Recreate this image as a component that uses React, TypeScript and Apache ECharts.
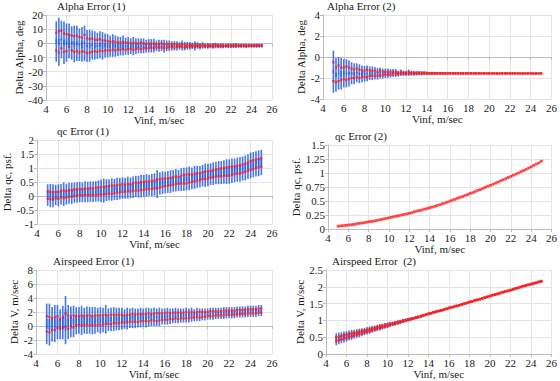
import React, { useEffect, useRef } from 'react';
import * as echarts from 'echarts';

const vinf = [5,5.25,5.5,5.75,6,6.25,6.5,6.75,7,7.25,7.5,7.75,8,8.25,8.5,8.75,9,9.25,9.5,9.75,10,10.25,10.5,10.75,11,11.25,11.5,11.75,12,12.25,12.5,12.75,13,13.25,13.5,13.75,14,14.25,14.5,14.75,15,15.25,15.5,15.75,16,16.25,16.5,16.75,17,17.25,17.5,17.75,18,18.25,18.5,18.75,19,19.25,19.5,19.75,20,20.25,20.5,20.75,21,21.25,21.5,21.75,22,22.25,22.5,22.75,23,23.25,23.5,23.75,24,24.25,24.5,24.75,25];
const xTicks = [4, 6, 8, 10, 12, 14, 16, 18, 20, 22, 24, 26];

// Alpha Error (1)
const a1Up = [7.5,8.5,9.0,7.0, 6.5,6.0,5.5,5.0, 5.5,4.5,4.0,6.0, 3.5,3.0,3.5,2.5, 2.5,3.0,2.0,2.0, 1.5,1.0,1.5,1.0, 0.5,0.5,1.0,0.5, 0.5,0.0,0.5,0.0, 0.0,0.5,0.0,-0.5, 0.0,-0.5,0.0,-0.5, -0.5,0.0,-0.5,-0.5, -0.5,-1.0,-0.5,-1.0, -1.0,-0.5,-1.0,-1.0, -1.0,-1.5,-1.0,-1.0, -1.5,-1.0,-1.5,-1.5, -1.5,-1.5,-1.0,-1.5, -1.5,-1.5,-1.5,-1.5, -1.5,-1.5,-1.0,-1.5, -1.5,-1.5,-1.5,-1.5, -1.5,-1.5,-1.5,-1.5, -1.5];
const a1Lo = [-5.0,-6.5,-3.5,-6.0, -5.5,-2.5,-5.0,-6.0, -5.5,-6.5,-5.5,-6.0, -7.0,-6.5,-6.0,-5.5, -6.0,-5.0,-5.5,-5.0, -5.0,-5.0,-4.5,-5.0, -4.5,-4.5,-4.0,-4.5, -4.0,-4.0,-4.5,-4.0, -3.5,-4.0,-3.5,-3.5, -3.5,-3.0,-3.5,-3.0, -3.0,-3.0,-3.5,-3.0, -3.0,-2.5,-3.0,-2.5, -2.5,-2.5,-3.0,-2.5, -2.5,-2.0,-2.5,-2.0, -2.5,-2.0,-2.0,-2.0, -2.0,-2.0,-2.0,-2.0, -2.0,-2.0,-1.8,-2.0, -2.0,-1.8,-2.0,-1.8, -1.8,-1.8,-2.0,-1.8, -1.8,-1.8,-1.8,-1.8, -1.8];
const a1Err = [8.0,9.5,7.0,8.5, 7.5,8.0,6.5,7.5, 7.0,6.0,7.5,6.5, 6.0,6.5,5.5,6.0, 5.0,5.5,6.0,5.0, 5.0,4.5,5.0,4.5, 4.5,4.0,4.5,3.5, 4.0,3.5,4.0,3.5, 3.5,3.0,3.5,3.0, 3.0,3.5,3.0,2.5, 3.0,2.5,3.0,2.5, 2.5,2.5,2.0,2.5, 2.0,2.5,2.0,2.0, 2.0,2.0,2.5,1.8, 1.8,1.8,1.5,1.8, 1.5,1.8,1.5,1.5, 1.5,1.5,1.3,1.5, 1.3,1.5,1.3,1.3, 1.3,1.2,1.3,1.2, 1.2,1.2,1.3,1.2, 1.2];

// Alpha Error (2)
const a2Up = [-0.5,-1.0,-0.8,-1.0, -1.0,-0.9,-1.0,-1.1, -1.2,-1.1,-1.2,-1.3, -1.3,-1.2,-1.3,-1.3, -1.3,-1.4,-1.3,-1.4, -1.4,-1.4,-1.4,-1.4, -1.4,-1.5,-1.4,-1.5, -1.5,-1.4,-1.5,-1.5, -1.5,-1.5,-1.5,-1.5, -1.52,-1.55,-1.53,-1.55, -1.54,-1.55,-1.53,-1.55, -1.55,-1.54,-1.55,-1.55, -1.55,-1.56,-1.55,-1.55, -1.55,-1.55,-1.56,-1.55, -1.55,-1.56,-1.55,-1.56, -1.56,-1.55,-1.56,-1.56, -1.56,-1.56,-1.55,-1.56, -1.56,-1.56,-1.56,-1.56, -1.56,-1.57,-1.56,-1.56, -1.56,-1.56,-1.57,-1.56, -1.56];
const a2Lo = [-2.3,-2.4,-2.3,-2.2, -2.1,-2.2,-2.1,-2.0, -2.0,-1.9,-2.0,-1.9, -1.9,-1.9,-1.8,-1.8, -1.8,-1.8,-1.75,-1.75, -1.7,-1.7,-1.7,-1.65, -1.65,-1.65,-1.6,-1.6, -1.6,-1.6,-1.6,-1.6, -1.6,-1.58,-1.6,-1.58, -1.58,-1.57,-1.58,-1.57, -1.57,-1.57,-1.58,-1.57, -1.57,-1.57,-1.57,-1.58, -1.57,-1.57,-1.58,-1.57, -1.57,-1.58,-1.57,-1.57, -1.57,-1.57,-1.57,-1.57, -1.57,-1.57,-1.57,-1.58, -1.57,-1.57,-1.58,-1.57, -1.57,-1.57,-1.57,-1.57, -1.58,-1.57,-1.57,-1.57, -1.57,-1.58,-1.57,-1.57, -1.57];
const a2Err = [1.1,0.9,0.8,0.9, 0.8,0.7,0.7,0.6, 0.6,0.5,0.5,0.5, 0.45,0.4,0.4,0.4, 0.35,0.35,0.3,0.3, 0.3,0.3,0.25,0.25, 0.25,0.22,0.22,0.2, 0.2,0.2,0.18,0.18, 0.16,0.16,0.15,0.14, 0.13,0.12,0.12,0.11, 0.1,0.1,0.1,0.09, 0.09,0.08,0.08,0.08, 0.08,0.07,0.08,0.07, 0.07,0.07,0.07,0.07, 0.07,0.06,0.07,0.06, 0.06,0.06,0.06,0.06, 0.06,0.06,0.06,0.06, 0.06,0.06,0.06,0.06, 0.06,0.06,0.06,0.06, 0.06,0.06,0.06,0.06, 0.06];

// qc Error (1)
const q1Up = [0.17,0.15,0.12,0.15, 0.15,0.18,0.2,0.18, 0.22,0.2,0.24,0.23, 0.25,0.24,0.27,0.26, 0.28,0.27,0.3,0.31, 0.33,0.32,0.35,0.36, 0.38,0.37,0.4,0.4, 0.42,0.4,0.43,0.42, 0.45,0.48,0.47,0.5, 0.5,0.52,0.52,0.54, 0.55,0.58,0.6,0.62, 0.62,0.63,0.65,0.68, 0.7,0.68,0.72,0.75, 0.77,0.78,0.76,0.8, 0.82,0.8,0.85,0.88, 0.88,0.9,0.92,0.95, 0.97,0.98,1.0,1.02, 1.03,1.05,1.06,1.08, 1.1,1.13,1.15,1.2, 1.25,1.28,1.3,1.32, 1.35];
const q1Lo = [-0.1,-0.12,-0.1,-0.08, -0.1,-0.05,-0.08,-0.05, -0.03,-0.02,0.0,0.02, 0.03,0.02,0.04,0.03, 0.03,0.04,0.03,0.05, 0.05,0.06,0.07,0.08, 0.08,0.1,0.12,0.13, 0.15,0.15,0.17,0.16, 0.18,0.2,0.19,0.21, 0.22,0.24,0.25,0.25, 0.27,0.28,0.3,0.33, 0.35,0.37,0.38,0.4, 0.42,0.43,0.45,0.44, 0.45,0.48,0.5,0.52, 0.55,0.57,0.6,0.6, 0.62,0.65,0.67,0.7, 0.7,0.7,0.72,0.72, 0.72,0.75,0.78,0.8, 0.8,0.83,0.86,0.9, 0.93,0.96,1.0,1.02, 1.05];
const q1Err = [0.25,0.28,0.3,0.25, 0.27,0.25,0.28,0.26, 0.25,0.27,0.24,0.26, 0.25,0.24,0.26,0.25, 0.24,0.25,0.23,0.25, 0.26,0.3,0.25,0.24, 0.25,0.24,0.26,0.25, 0.24,0.25,0.26,0.24, 0.25,0.24,0.25,0.26, 0.25,0.26,0.24,0.25, 0.26,0.35,0.25,0.26, 0.25,0.26,0.27,0.25, 0.26,0.25,0.27,0.26, 0.25,0.27,0.26,0.27, 0.26,0.27,0.26,0.28, 0.27,0.26,0.28,0.27, 0.28,0.27,0.28,0.29, 0.28,0.29,0.28,0.29, 0.29,0.28,0.3,0.29, 0.3,0.29,0.3,0.31, 0.3];

// qc Error (2)
const q2 = [0.05,0.055,0.06,0.065, 0.07,0.075,0.08,0.09, 0.1,0.105,0.11,0.12, 0.13,0.135,0.14,0.15, 0.16,0.17,0.18,0.19, 0.2,0.21,0.22,0.23, 0.24,0.25,0.26,0.27, 0.28,0.29,0.31,0.32, 0.33,0.34,0.355,0.365, 0.38,0.39,0.405,0.42, 0.435,0.45,0.465,0.48, 0.5,0.515,0.53,0.55, 0.565,0.58,0.6,0.615, 0.635,0.65,0.67,0.69, 0.705,0.725,0.745,0.765, 0.78,0.8,0.82,0.84, 0.86,0.88,0.9,0.92, 0.94,0.96,0.98,1.0, 1.025,1.045,1.065,1.09, 1.11,1.135,1.16,1.18, 1.21];

// Airspeed Error (1)
const v1Up = [1.4,1.3,1.1,1.3, 1.4,0.9,1.2,1.8, 1.5,1.2,1.5,1.4, 1.4,1.5,1.4,1.5, 1.5,1.4,1.5,1.5, 1.5,1.5,1.6,1.5, 1.6,1.6,1.6,1.6, 1.6,1.5,1.6,1.6, 1.7,1.6,1.7,1.7, 1.7,1.7,1.8,1.7, 1.8,1.8,1.8,1.8, 1.8,1.9,1.8,1.9, 1.9,1.9,1.9,1.9, 2.0,1.9,2.0,1.9, 2.0,2.0,2.0,2.0, 2.0,2.1,2.1,2.1, 2.1,2.1,2.2,2.2, 2.2,2.2,2.2,2.3, 2.3,2.3,2.3,2.4, 2.4,2.4,2.4,2.5, 2.5];
const v1Lo = [-0.8,-0.9,-0.6,-0.6, -0.3,-0.4,-0.2,-0.1, -0.4,0.0,-0.2,0.1, 0.2,0.1,0.1,0.2, 0.1,0.1,0.1,0.2, 0.1,0.2,0.3,0.3, 0.3,0.4,0.4,0.4, 0.5,0.5,0.5,0.6, 0.6,0.6,0.6,0.7, 0.7,0.7,0.7,0.8, 0.8,0.7,0.8,0.9, 0.9,0.9,1.0,1.0, 1.1,1.0,1.1,1.1, 1.1,1.1,1.2,1.2, 1.3,1.2,1.3,1.3, 1.4,1.4,1.4,1.5, 1.5,1.5,1.5,1.6, 1.6,1.6,1.6,1.7, 1.7,1.7,1.7,1.8, 1.8,1.8,1.8,1.9, 1.9];
const v1Err = [1.8,1.9,1.6,1.7, 1.6,1.5,1.7,2.5, 1.5,1.6,1.4,1.3, 1.3,1.4,1.2,1.3, 1.2,1.3,1.2,1.1, 1.2,1.1,1.4,1.0, 1.0,1.1,1.0,1.0, 1.0,0.9,1.0,0.9, 0.9,0.9,0.8,0.9, 0.8,0.9,0.8,0.8, 0.8,0.7,0.8,0.7, 0.7,0.7,0.7,0.6, 0.7,0.6,0.6,0.6, 0.6,0.6,0.6,0.5, 0.6,0.5,0.5,0.5, 0.5,0.5,0.5,0.5, 0.5,0.5,0.5,0.5, 0.5,0.5,0.5,0.5, 0.5,0.5,0.5,0.5, 0.5,0.5,0.5,0.5, 0.5];

// Airspeed Error (2)
const v2Up = [0.5,0.52,0.54,0.56, 0.58,0.6,0.62,0.63, 0.65,0.67,0.69,0.7, 0.72,0.74,0.76,0.78, 0.8,0.82,0.84,0.86, 0.88,0.9,0.91,0.93, 0.95,0.97,0.99,1.01, 1.03,1.05,1.06,1.08, 1.1,1.13,1.15,1.17, 1.2,1.22,1.24,1.26, 1.28,1.3,1.32,1.35, 1.37,1.39,1.41,1.43, 1.45,1.48,1.5,1.52, 1.55,1.57,1.59,1.61, 1.63,1.66,1.68,1.7, 1.73,1.75,1.77,1.79, 1.82,1.84,1.86,1.88, 1.9,1.93,1.95,1.97, 2.0,2.02,2.04,2.06, 2.08,2.1,2.12,2.15, 2.17];
const v2Lo = [0.38,0.41,0.43,0.45, 0.47,0.5,0.52,0.55, 0.57,0.59,0.61,0.64, 0.66,0.68,0.7,0.73, 0.75,0.77,0.79,0.81, 0.83,0.86,0.88,0.9, 0.92,0.94,0.97,0.99, 1.01,1.03,1.05,1.08, 1.1,1.12,1.15,1.17, 1.19,1.21,1.24,1.26, 1.28,1.3,1.32,1.34, 1.37,1.39,1.41,1.43, 1.45,1.47,1.5,1.52, 1.54,1.56,1.59,1.61, 1.63,1.65,1.68,1.7, 1.72,1.75,1.77,1.79, 1.81,1.84,1.86,1.88, 1.9,1.92,1.95,1.97, 1.99,2.02,2.04,2.06, 2.08,2.1,2.12,2.14, 2.16];
const v2Err = [0.12,0.12,0.11,0.11, 0.1,0.1,0.1,0.09, 0.09,0.09,0.08,0.08, 0.08,0.08,0.07,0.07, 0.07,0.07,0.06,0.06, 0.06,0.06,0.05,0.05, 0.05,0.05,0.05,0.04, 0.04,0.04,0.04,0.04, 0.04,0.04,0.03,0.03, 0.03,0.03,0.03,0.03, 0.03,0.03,0.02,0.02, 0.02,0.02,0.02,0.02, 0.02,0.02,0.02,0.02, 0.02,0.02,0.02,0.02, 0.02,0.02,0.02,0.02, 0.02,0.02,0.02,0.02, 0.02,0.02,0.02,0.02, 0.02,0.02,0.02,0.02, 0.02,0.02,0.02,0.02, 0.02,0.02,0.02,0.02, 0.02];

const FONT = "'Liberation Serif', 'Times New Roman', serif";
const TEXT = '#1a1a1a';
const RED = '#ff1a1a';
const BLUE = 'rgba(40, 95, 230, 0.85)';

type Panel = {
  title: string; yName: string; min: number; max: number; interval: number;
  grid: { left: number; top: number; width: number; height: number };
  tx: number; ty: number; xGap: number; yGap: number; dot: number;
  series: { mean: number[]; err?: number[] }[];
};

const panels: Panel[] = [
  { title: 'Alpha Error (1)', yName: 'Delta Alpha, deg', min: -40, max: 20, interval: 10,
    grid: { left: 46, top: 15, width: 226, height: 85 }, tx: 57, ty: 6, xGap: 12, yGap: 21, dot: 2.3,
    series: [{ mean: a1Up, err: a1Err }, { mean: a1Lo, err: a1Err }] },
  { title: 'Alpha Error (2)', yName: 'Delta Alpha, deg', min: -4, max: 4, interval: 2,
    grid: { left: 323, top: 15, width: 229, height: 84 }, tx: 327, ty: 6, xGap: 12, yGap: 14, dot: 2.3,
    series: [{ mean: a2Up, err: a2Err }, { mean: a2Lo, err: a2Err }] },
  { title: 'qc Error (1)', yName: 'Delta qc, psf.', min: -1, max: 2, interval: 0.5,
    grid: { left: 37, top: 140, width: 235, height: 84 }, tx: 57, ty: 131, xGap: 13, yGap: 22, dot: 2.3,
    series: [{ mean: q1Up, err: q1Err }, { mean: q1Lo, err: q1Err }] },
  { title: 'qc Error (2)', yName: 'Delta qc, psf.', min: 0, max: 1.5, interval: 0.25,
    grid: { left: 328, top: 145, width: 224, height: 84 }, tx: 335, ty: 136, xGap: 14, yGap: 24, dot: 2.8,
    series: [{ mean: q2 }] },
  { title: 'Airspeed Error (1)', yName: 'Delta V, m/sec', min: -4, max: 8, interval: 2,
    grid: { left: 36, top: 270, width: 236, height: 84 }, tx: 53, ty: 261, xGap: 14, yGap: 17, dot: 2.3,
    series: [{ mean: v1Up, err: v1Err }, { mean: v1Lo, err: v1Err }] },
  { title: 'Airspeed Error  (2)', yName: 'Delta V, m/sec', min: 0, max: 2.5, interval: 0.5,
    grid: { left: 326, top: 270, width: 226, height: 84 }, tx: 332, ty: 261, xGap: 14, yGap: 21, dot: 2.6,
    series: [{ mean: v2Up, err: v2Err }, { mean: v2Lo, err: v2Err }] },
];

function buildOption() {
  const grid: any[] = [];
  const xAxis: any[] = [];
  const yAxis: any[] = [];
  const series: any[] = [];
  const graphic: any[] = [];
  const axisCommon = {
    axisLine: { show: true, lineStyle: { color: '#bdbdbd', width: 1 } },
    axisTick: { show: true, length: 3, lineStyle: { color: '#bdbdbd' } },
    axisLabel: { margin: 3, fontSize: 11, fontFamily: FONT, color: TEXT },
    splitLine: { show: true, lineStyle: { color: '#e4e4e4', width: 1 } },
    nameTextStyle: { fontSize: 11, fontFamily: FONT, color: TEXT },
    nameLocation: 'middle',
  };
  panels.forEach((p, i) => {
    grid.push({ ...p.grid, containLabel: false });
    xAxis.push({
      ...axisCommon, gridIndex: i, type: 'value', min: xTicks[0], max: xTicks[xTicks.length - 1], interval: 2,
      name: 'Vinf, m/sec', nameGap: p.xGap,
    });
    yAxis.push({
      ...axisCommon, gridIndex: i, type: 'value', min: p.min, max: p.max, interval: p.interval,
      name: p.yName, nameGap: p.yGap,
    });
    graphic.push({
      type: 'text', x: p.tx, y: p.ty,
      style: { text: p.title, fontSize: 11, fontFamily: FONT, fill: TEXT, verticalAlign: 'middle', align: 'left' },
    });
    p.series.forEach((s) => {
      if (!s.err) return;
      const err = s.err;
      series.push({
        type: 'custom', xAxisIndex: i, yAxisIndex: i, clip: true,
        encode: { x: 0, y: [1, 2] },
        data: vinf.map((x, k) => [x, s.mean[k] - err[k], s.mean[k] + err[k]]),
        renderItem: (params: any, api: any) => {
          const lo = api.coord([api.value(0), api.value(1)]);
          const hi = api.coord([api.value(0), api.value(2)]);
          return {
            type: 'rect',
            shape: { x: lo[0] - 0.8, y: hi[1], width: 1.6, height: Math.max(1, lo[1] - hi[1]) },
            style: { fill: BLUE },
          };
        },
        silent: true,
      });
    });
    p.series.forEach((s) => {
      series.push({
        type: 'scatter', xAxisIndex: i, yAxisIndex: i,
        symbol: 'rect', symbolSize: p.dot,
        itemStyle: { color: RED },
        data: vinf.map((x, k) => [x, s.mean[k]]),
        silent: true,
      });
    });
  });
  return { animation: false, grid, xAxis, yAxis, series, graphic, backgroundColor: '#ffffff' };
}

export default function App() {
  const ref = useRef<HTMLDivElement>(null);
  useEffect(() => {
    if (!ref.current) return;
    const chart = echarts.init(ref.current, undefined, { renderer: 'svg' });
    chart.setOption(buildOption() as any);
    return () => chart.dispose();
  }, []);
  return <div ref={ref} style={{ position: 'absolute', left: 0, top: 0, width: 560, height: 381 }} />;
}
